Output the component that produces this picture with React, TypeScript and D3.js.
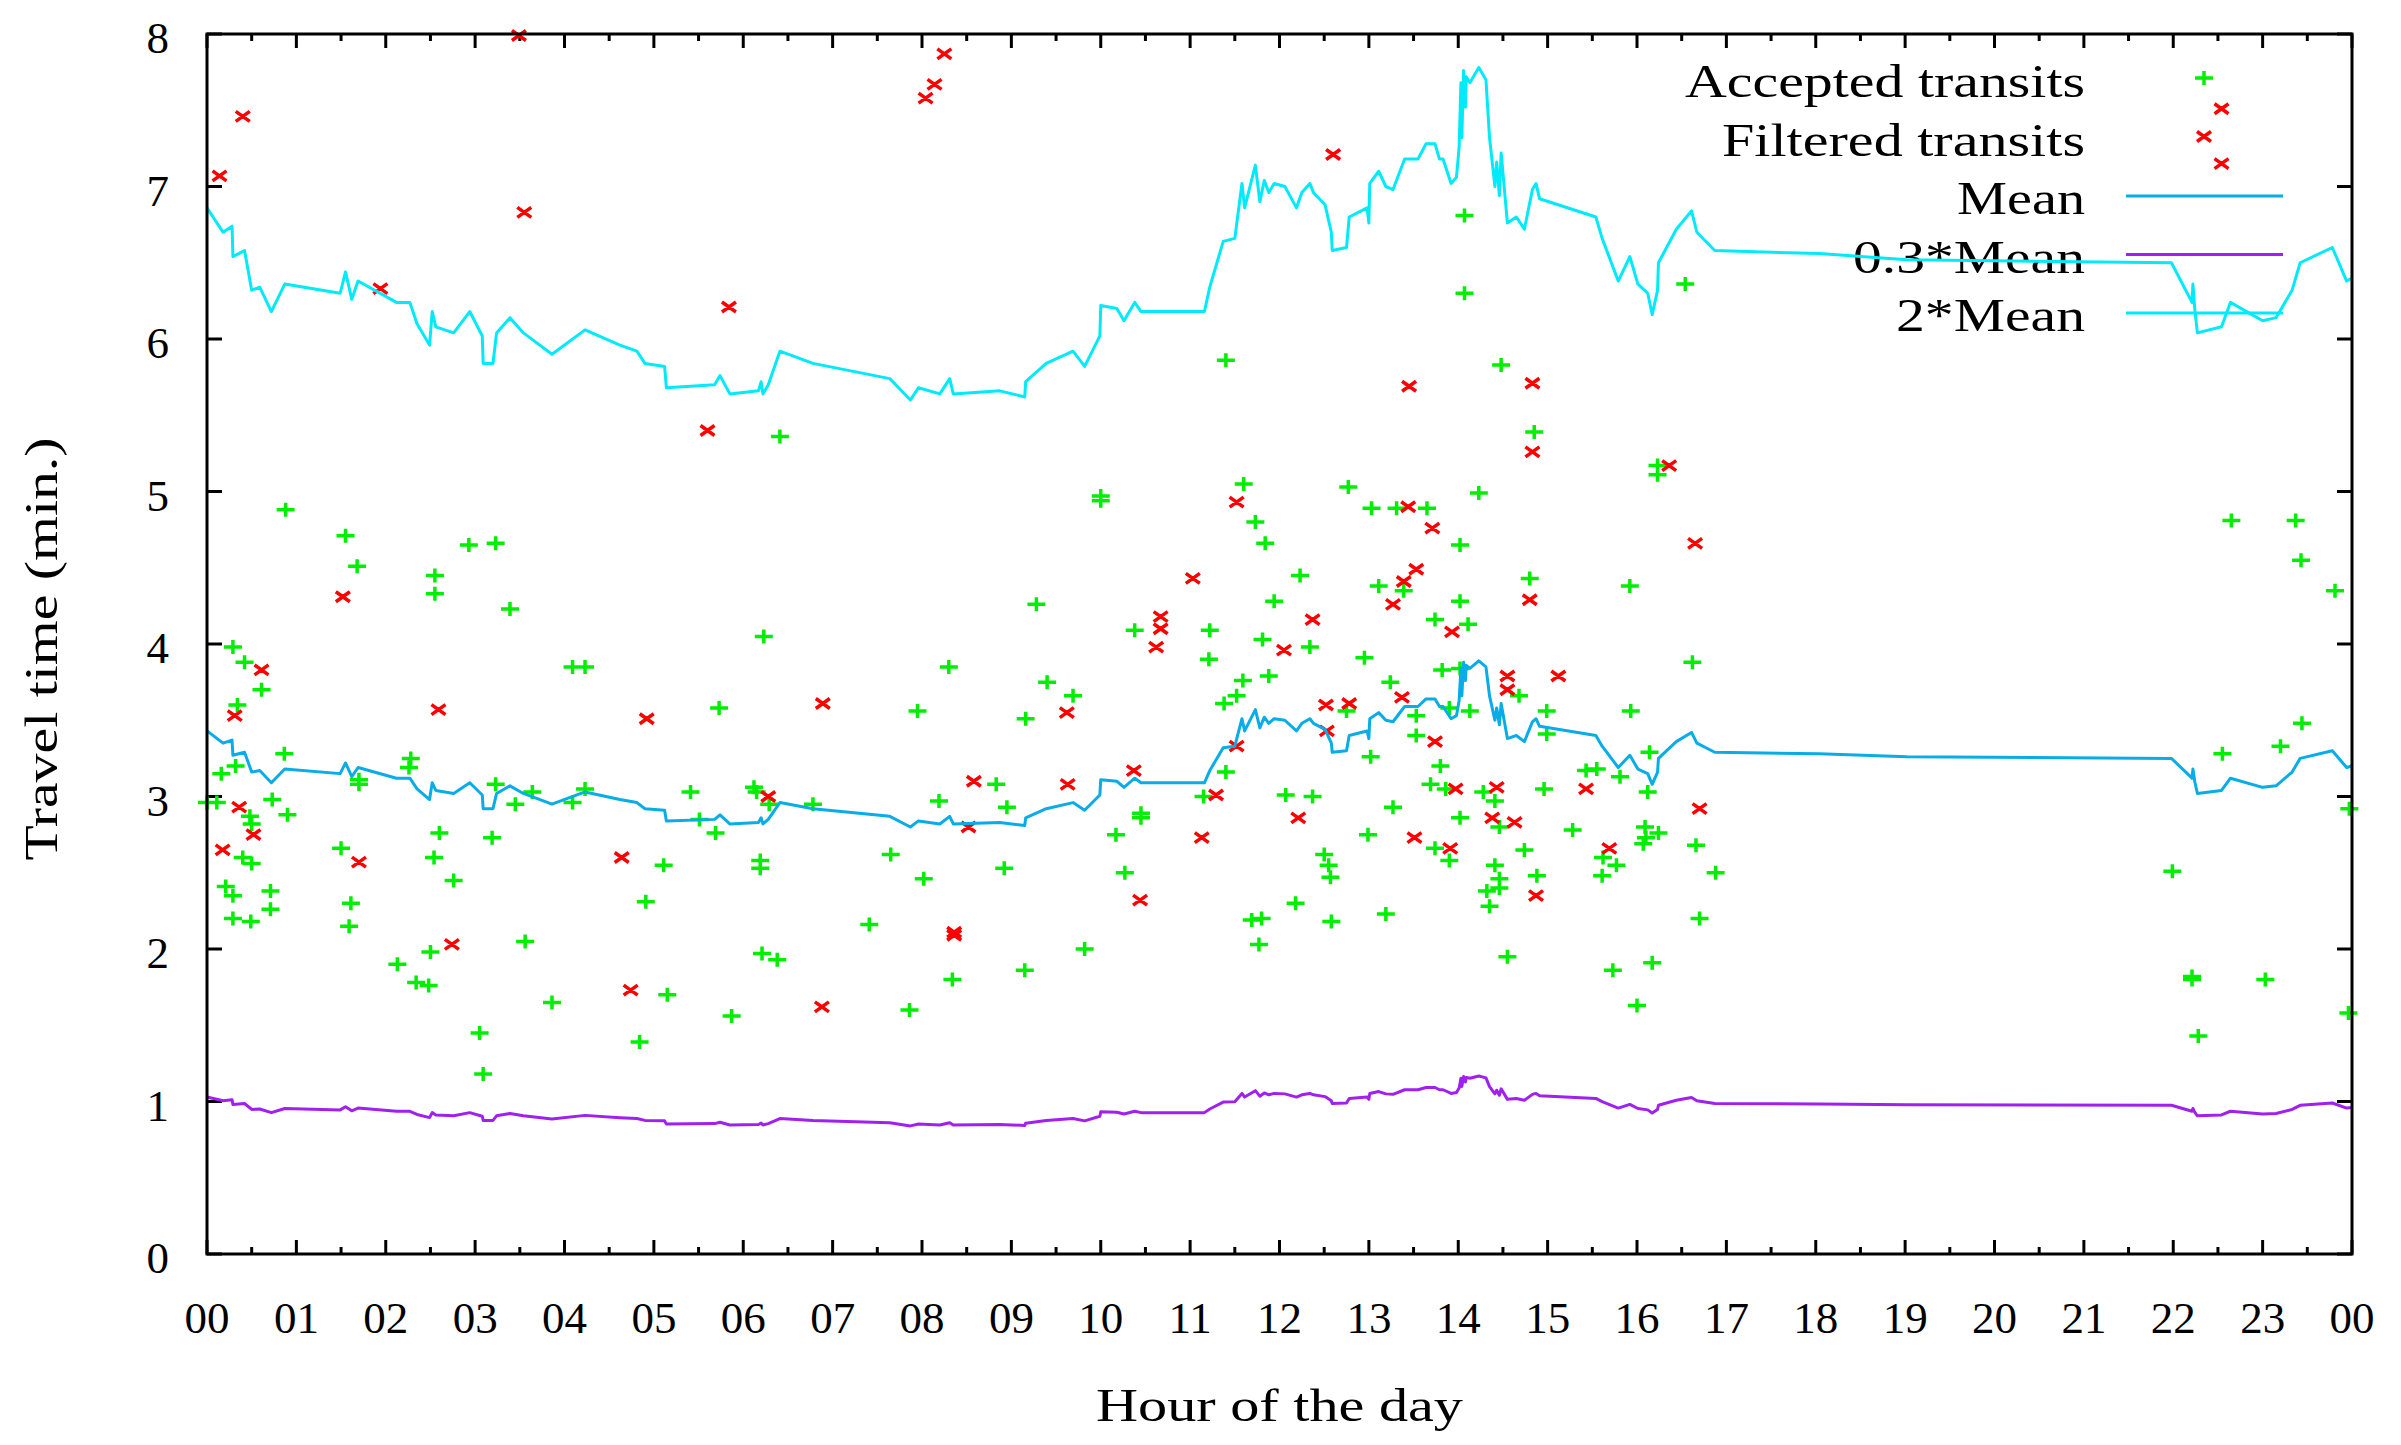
import { scaleLinear, line, range } from "d3";

// hour of day, travel time (min.)
const acceptedTransits: [number, number][] = [
  [0.88, 4.88], [1.55, 4.71], [1.68, 4.51], [2.93, 4.65], [3.23, 4.66], [2.55, 4.45],
  [2.55, 4.33], [3.39, 4.23], [0.29, 3.98], [0.42, 3.88], [0.61, 3.7], [0.34, 3.6],
  [4.09, 3.85], [4.23, 3.85], [0.865, 3.28], [0.32, 3.2], [0.16, 3.15], [2.28, 3.25],
  [2.26, 3.19], [1.7, 3.11], [1.7, 3.08], [3.23, 3.08], [3.64, 3.03], [4.23, 3.05],
  [0.0, 2.96], [0.11, 2.96], [0.73, 2.98], [0.9, 2.88], [3.45, 2.95], [4.09, 2.96],
  [0.48, 2.87], [0.5, 2.82], [2.6, 2.76], [3.19, 2.73], [1.5, 2.66], [2.54, 2.6],
  [0.4, 2.6], [0.5, 2.56], [2.76, 2.45], [0.21, 2.41], [0.29, 2.35], [0.71, 2.38],
  [0.71, 2.26], [1.61, 2.3], [1.59, 2.15], [0.29, 2.2], [0.49, 2.18], [3.56, 2.05],
  [2.5, 1.98], [2.13, 1.9], [2.34, 1.78], [2.48, 1.76], [3.86, 1.65], [3.05, 1.45],
  [3.09, 1.18],
  [6.41, 5.36], [6.23, 4.05], [8.3, 3.85], [5.73, 3.58], [7.95, 3.56], [5.41, 3.03],
  [6.12, 3.06], [6.15, 3.03], [6.29, 2.95], [6.78, 2.95], [8.83, 3.08], [8.19, 2.97],
  [8.95, 2.93], [5.51, 2.85], [5.69, 2.76], [5.11, 2.55], [6.19, 2.58], [6.19, 2.53],
  [7.65, 2.62], [8.02, 2.46], [8.92, 2.53], [4.91, 2.31], [7.41, 2.16], [6.21, 1.97],
  [6.38, 1.93], [8.34, 1.8], [5.15, 1.7], [5.87, 1.56], [7.86, 1.6], [4.84, 1.39],
  [11.4, 5.86], [11.6, 5.05], [12.77, 5.03], [10.0, 4.97], [10.0, 4.94], [13.03, 4.89],
  [13.31, 4.89], [11.73, 4.8], [11.84, 4.66], [12.23, 4.45], [13.11, 4.38], [13.39, 4.35],
  [11.94, 4.28], [9.28, 4.26], [10.38, 4.09], [11.22, 4.09], [11.21, 3.9], [11.81, 4.03],
  [12.34, 3.98], [12.95, 3.91], [11.88, 3.79], [11.59, 3.76], [11.52, 3.66], [11.38, 3.61],
  [13.24, 3.75], [9.4, 3.75], [9.69, 3.66], [9.16, 3.51], [12.75, 3.56], [13.53, 3.53],
  [13.53, 3.4], [13.02, 3.26], [11.4, 3.16], [11.15, 3.0], [12.07, 3.01], [12.37, 3.0],
  [13.27, 2.93], [10.45, 2.89], [10.45, 2.86], [10.17, 2.75], [12.99, 2.75], [10.27, 2.5],
  [12.5, 2.62], [12.55, 2.55], [12.57, 2.47], [12.18, 2.3], [13.19, 2.23], [11.69, 2.19],
  [11.8, 2.2], [12.58, 2.18], [11.77, 2.03], [9.82, 2.0], [9.15, 1.86],
  [14.07, 6.81], [14.07, 6.3], [16.54, 6.36], [14.48, 5.83], [14.85, 5.39], [16.23, 5.17],
  [16.23, 5.11], [14.23, 4.99], [13.65, 4.89], [14.02, 4.65], [14.8, 4.43], [15.92, 4.38],
  [14.02, 4.28], [13.74, 4.16], [14.11, 4.13], [16.62, 3.88], [13.82, 3.83], [14.02, 3.84],
  [14.68, 3.66], [13.9, 3.58], [14.13, 3.56], [14.99, 3.56], [15.93, 3.56], [14.99, 3.41],
  [16.14, 3.29], [13.8, 3.2], [15.43, 3.17], [15.55, 3.18], [15.81, 3.13], [13.69, 3.08],
  [13.86, 3.05], [14.28, 3.03], [14.41, 2.97], [14.96, 3.05], [16.12, 3.03], [14.02, 2.86],
  [14.46, 2.8], [15.28, 2.78], [16.09, 2.8], [16.1, 2.73], [16.07, 2.69], [16.24, 2.76],
  [16.66, 2.68], [13.74, 2.66], [13.9, 2.58], [14.74, 2.65], [14.41, 2.55], [15.62, 2.6],
  [15.77, 2.55], [15.61, 2.48], [16.88, 2.5], [14.46, 2.46], [14.88, 2.48], [14.46, 2.4],
  [14.32, 2.38], [14.35, 2.28], [16.7, 2.2], [14.55, 1.95], [16.17, 1.91], [15.73, 1.86],
  [16.0, 1.63],
  [22.65, 4.81], [23.37, 4.81], [23.43, 4.55], [23.81, 4.35], [23.44, 3.48], [23.2, 3.33],
  [22.55, 3.28], [23.97, 2.92], [21.99, 2.51], [22.21, 1.82], [22.21, 1.8], [23.03, 1.8],
  [22.28, 1.43], [23.96, 1.58],
];

const filteredTransits: [number, number][] = [
  [0.14, 7.07], [0.4, 7.46], [3.49, 7.99], [3.55, 6.83], [1.94, 6.33], [5.84, 6.21],
  [8.04, 7.58], [8.14, 7.67], [8.25, 7.87], [12.6, 7.21], [22.54, 7.51], [22.54, 7.15],
  [1.52, 4.31], [0.61, 3.83], [0.31, 3.53], [2.59, 3.57], [0.36, 2.93], [0.52, 2.75],
  [0.175, 2.65], [1.7, 2.57], [2.74, 2.03], [4.64, 2.6],
  [5.6, 5.4], [4.92, 3.51], [6.89, 3.61], [8.58, 3.1], [6.28, 3.0], [8.52, 2.8],
  [8.36, 2.11], [8.36, 2.09], [4.74, 1.73], [6.88, 1.62],
  [13.45, 5.69], [11.52, 4.93], [13.44, 4.9], [11.03, 4.43], [13.53, 4.49], [13.39, 4.41],
  [13.27, 4.26], [10.67, 4.18], [10.67, 4.1], [10.62, 3.98], [12.37, 4.16], [12.05, 3.96],
  [13.37, 3.65], [12.52, 3.6], [12.78, 3.61], [9.62, 3.55], [12.53, 3.43], [11.52, 3.33],
  [10.37, 3.17], [9.63, 3.08], [11.29, 3.01], [12.21, 2.86], [11.13, 2.73], [13.51, 2.73],
  [10.44, 2.32],
  [14.83, 5.71], [14.83, 5.26], [16.36, 5.17], [13.71, 4.76], [16.65, 4.66], [14.8, 4.29],
  [13.93, 4.08], [14.55, 3.79], [14.55, 3.7], [15.12, 3.79], [13.74, 3.36], [13.97, 3.05],
  [14.43, 3.06], [15.43, 3.05], [14.38, 2.86], [14.63, 2.83], [16.7, 2.92], [13.91, 2.66],
  [15.69, 2.66], [14.87, 2.35],
];

const meanHours = [
  0, 0.18, 0.28, 0.29, 0.42, 0.5, 0.59, 0.72, 0.87, 1.49, 1.55, 1.62, 1.69, 2.12, 2.27,
  2.35, 2.49, 2.52, 2.56, 2.76, 2.94, 3.08, 3.09, 3.2, 3.24, 3.39, 3.54, 3.86, 4.23, 4.62,
  4.81, 4.9, 5.12, 5.14, 5.68, 5.74, 5.85, 6.17, 6.2, 6.22, 6.28, 6.41, 6.78, 7.64, 7.87,
  7.96, 8.2, 8.31, 8.35, 8.87, 9.15, 9.16, 9.39, 9.69, 9.82, 9.99, 10.0, 10.18, 10.26,
  10.38, 10.45, 11.16, 11.22, 11.37, 11.5, 11.58, 11.61, 11.73, 11.78, 11.83, 11.88, 11.94,
  12.06, 12.19, 12.25, 12.34, 12.38, 12.51, 12.58, 12.59, 12.75, 12.78, 12.98, 13.0, 13.01,
  13.11, 13.19, 13.27, 13.4, 13.55, 13.64, 13.74, 13.79, 13.83, 13.92, 13.98, 14.01, 14.03,
  14.04, 14.06, 14.08, 14.09, 14.13, 14.23, 14.31, 14.35, 14.41, 14.43, 14.46, 14.48, 14.55,
  14.65, 14.74, 14.83, 14.87, 14.91, 15.54, 15.61, 15.79, 15.92, 16.01, 16.12, 16.17, 16.23,
  16.24, 16.44, 16.61, 16.67, 16.87, 18.04, 19.02, 21.98, 22.21, 22.22, 22.24, 22.27, 22.54,
  22.64, 23.0, 23.15, 23.33, 23.42, 23.78, 23.94, 24,
];
const meanValues = [
  3.43, 3.35, 3.37, 3.27, 3.29, 3.16, 3.17, 3.09, 3.18, 3.15, 3.22, 3.13, 3.19, 3.12, 3.12,
  3.05, 2.98, 3.09, 3.04, 3.02, 3.09, 3.01, 2.92, 2.92, 3.02, 3.07, 3.02, 2.95, 3.03, 2.98,
  2.96, 2.92, 2.91, 2.84, 2.85, 2.88, 2.82, 2.83, 2.86, 2.82, 2.85, 2.96, 2.92, 2.87, 2.8,
  2.84, 2.82, 2.87, 2.82, 2.83, 2.81, 2.86, 2.92, 2.96, 2.91, 3.01, 3.11, 3.1, 3.06,
  3.12, 3.09, 3.09, 3.17, 3.32, 3.33, 3.51, 3.43, 3.57, 3.45, 3.52, 3.48, 3.51,
  3.5, 3.43, 3.48, 3.51, 3.48, 3.44, 3.35, 3.29, 3.3, 3.4, 3.43, 3.38, 3.51,
  3.55, 3.5, 3.49, 3.59, 3.59, 3.64, 3.64, 3.59, 3.59, 3.51, 3.53, 3.63, 3.84,
  3.66, 3.88, 3.76, 3.86, 3.84, 3.89, 3.85, 3.66, 3.5, 3.58, 3.47, 3.61, 3.38,
  3.4, 3.36, 3.49, 3.51, 3.46, 3.4, 3.33, 3.19, 3.27, 3.18, 3.15, 3.08, 3.16,
  3.25, 3.36, 3.42, 3.35, 3.29, 3.28, 3.26, 3.25, 3.12, 3.18, 3.1, 3.02, 3.04,
  3.12, 3.06, 3.07, 3.16, 3.25, 3.3, 3.19, 3.2,
];

const hourLabels = [
  "00", "01", "02", "03", "04", "05", "06", "07", "08", "09", "10", "11",
  "12", "13", "14", "15", "16", "17", "18", "19", "20", "21", "22", "23", "00",
];
const valueLabels = ["0", "1", "2", "3", "4", "5", "6", "7", "8"];

const W = 2401;
const H = 1445;
const FONT = "'Liberation Serif', 'Times New Roman', serif";

const x = scaleLinear().domain([0, 24]).range([207, 2352]);
const y = scaleLinear().domain([0, 8]).range([1254, 34]);

const plus = (cx: number, cy: number) =>
  `M${cx - 9},${cy}H${cx + 9}M${cx},${cy - 7}V${cy + 7}`;
const cross = (cx: number, cy: number) =>
  `M${cx - 7},${cy - 5}L${cx + 7},${cy + 5}M${cx - 7},${cy + 5}L${cx + 7},${cy - 5}`;

const meanLine = (k: number) =>
  line<number>()
    .x((_, i) => x(meanHours[i]))
    .y((d) => y(d * k))(meanValues) || "";

const series = [
  { label: "Mean", k: 1, color: "#08ace6" },
  { label: "0.3*Mean", k: 0.3, color: "#a020f0" },
  { label: "2*Mean", k: 2, color: "#00eafa" },
];

const App = () => {
  const [x0, x1] = x.range();
  const [y0, y1] = y.range();
  const legendX = 2085;
  const rowY = (i: number) => 97 + i * 58.5;

  return (
    <div>
      <style>{`body{margin:0}`}</style>
      <svg width={W} height={H} style={{ display: "block", background: "#fff" }} fontFamily={FONT}>
        {/* ticks */}
        <g stroke="#000" strokeWidth={3}>
          {range(0, 24.01, 0.5).map((h) => {
            const len = Number.isInteger(h) ? 14 : 7;
            return (
              <g key={"xt" + h}>
                <line x1={x(h)} x2={x(h)} y1={y0} y2={y0 - len} />
                <line x1={x(h)} x2={x(h)} y1={y1} y2={y1 + len} />
              </g>
            );
          })}
          {range(0, 9).map((v) => (
            <g key={"yt" + v}>
              <line x1={x0} x2={x0 + 15} y1={y(v)} y2={y(v)} />
              <line x1={x1} x2={x1 - 15} y1={y(v)} y2={y(v)} />
            </g>
          ))}
        </g>

        {/* tick labels */}
        <g fontSize={45} fill="#000">
          {hourLabels.map((t, i) => (
            <text key={"xl" + i} x={x(i)} y={1333} textAnchor="middle">
              {t}
            </text>
          ))}
          {valueLabels.map((t, i) => (
            <text key={"yl" + i} x={169} y={y(i) + 19} textAnchor="end">
              {t}
            </text>
          ))}
        </g>

        {/* axis titles */}
        <text x={(x0 + x1) / 2} y={1421} fontSize={46} textAnchor="middle" textLength={367} lengthAdjust="spacingAndGlyphs">
          Hour of the day
        </text>
        <text
          transform={`translate(57,${(y0 + y1) / 2 + 5}) rotate(-90)`}
          fontSize={46}
          textAnchor="middle"
          textLength={423}
          lengthAdjust="spacingAndGlyphs"
        >
          Travel time (min.)
        </text>

        {/* legend labels */}
        <g fontSize={46} textAnchor="end">
          <text x={legendX} y={rowY(0)} textLength={400} lengthAdjust="spacingAndGlyphs">Accepted transits</text>
          <text x={legendX} y={rowY(1)} textLength={363} lengthAdjust="spacingAndGlyphs">Filtered transits</text>
          <text x={legendX} y={rowY(2)} textLength={128} lengthAdjust="spacingAndGlyphs">Mean</text>
          <text x={legendX} y={rowY(3)} textLength={232} lengthAdjust="spacingAndGlyphs">0.3*Mean</text>
          <text x={legendX} y={rowY(4)} textLength={189} lengthAdjust="spacingAndGlyphs">2*Mean</text>
        </g>

        {/* accepted transits */}
        <path
          d={acceptedTransits.map(([h, v]) => plus(x(h), y(v))).join("") + plus(2204, rowY(0) - 19)}
          stroke="#00ee00"
          strokeWidth={3.5}
          fill="none"
        />
        {/* filtered transits */}
        <path
          d={filteredTransits.map(([h, v]) => cross(x(h), y(v))).join("") + cross(2204, rowY(1) - 19)}
          stroke="#ff0000"
          strokeWidth={3.5}
          fill="none"
        />

        {/* mean lines */}
        {series.map((s, i) => (
          <g key={s.label}>
            <path d={meanLine(s.k)} stroke={s.color} strokeWidth={3} fill="none" strokeLinejoin="round" />
            <line x1={2126} x2={2283} y1={rowY(2 + i) - 18} y2={rowY(2 + i) - 18} stroke={s.color} strokeWidth={3} />
          </g>
        ))}

        {/* frame */}
        <rect x={x0} y={y1} width={x1 - x0} height={y0 - y1} fill="none" stroke="#000" strokeWidth={3} />
      </svg>
    </div>
  );
};

export default App;
